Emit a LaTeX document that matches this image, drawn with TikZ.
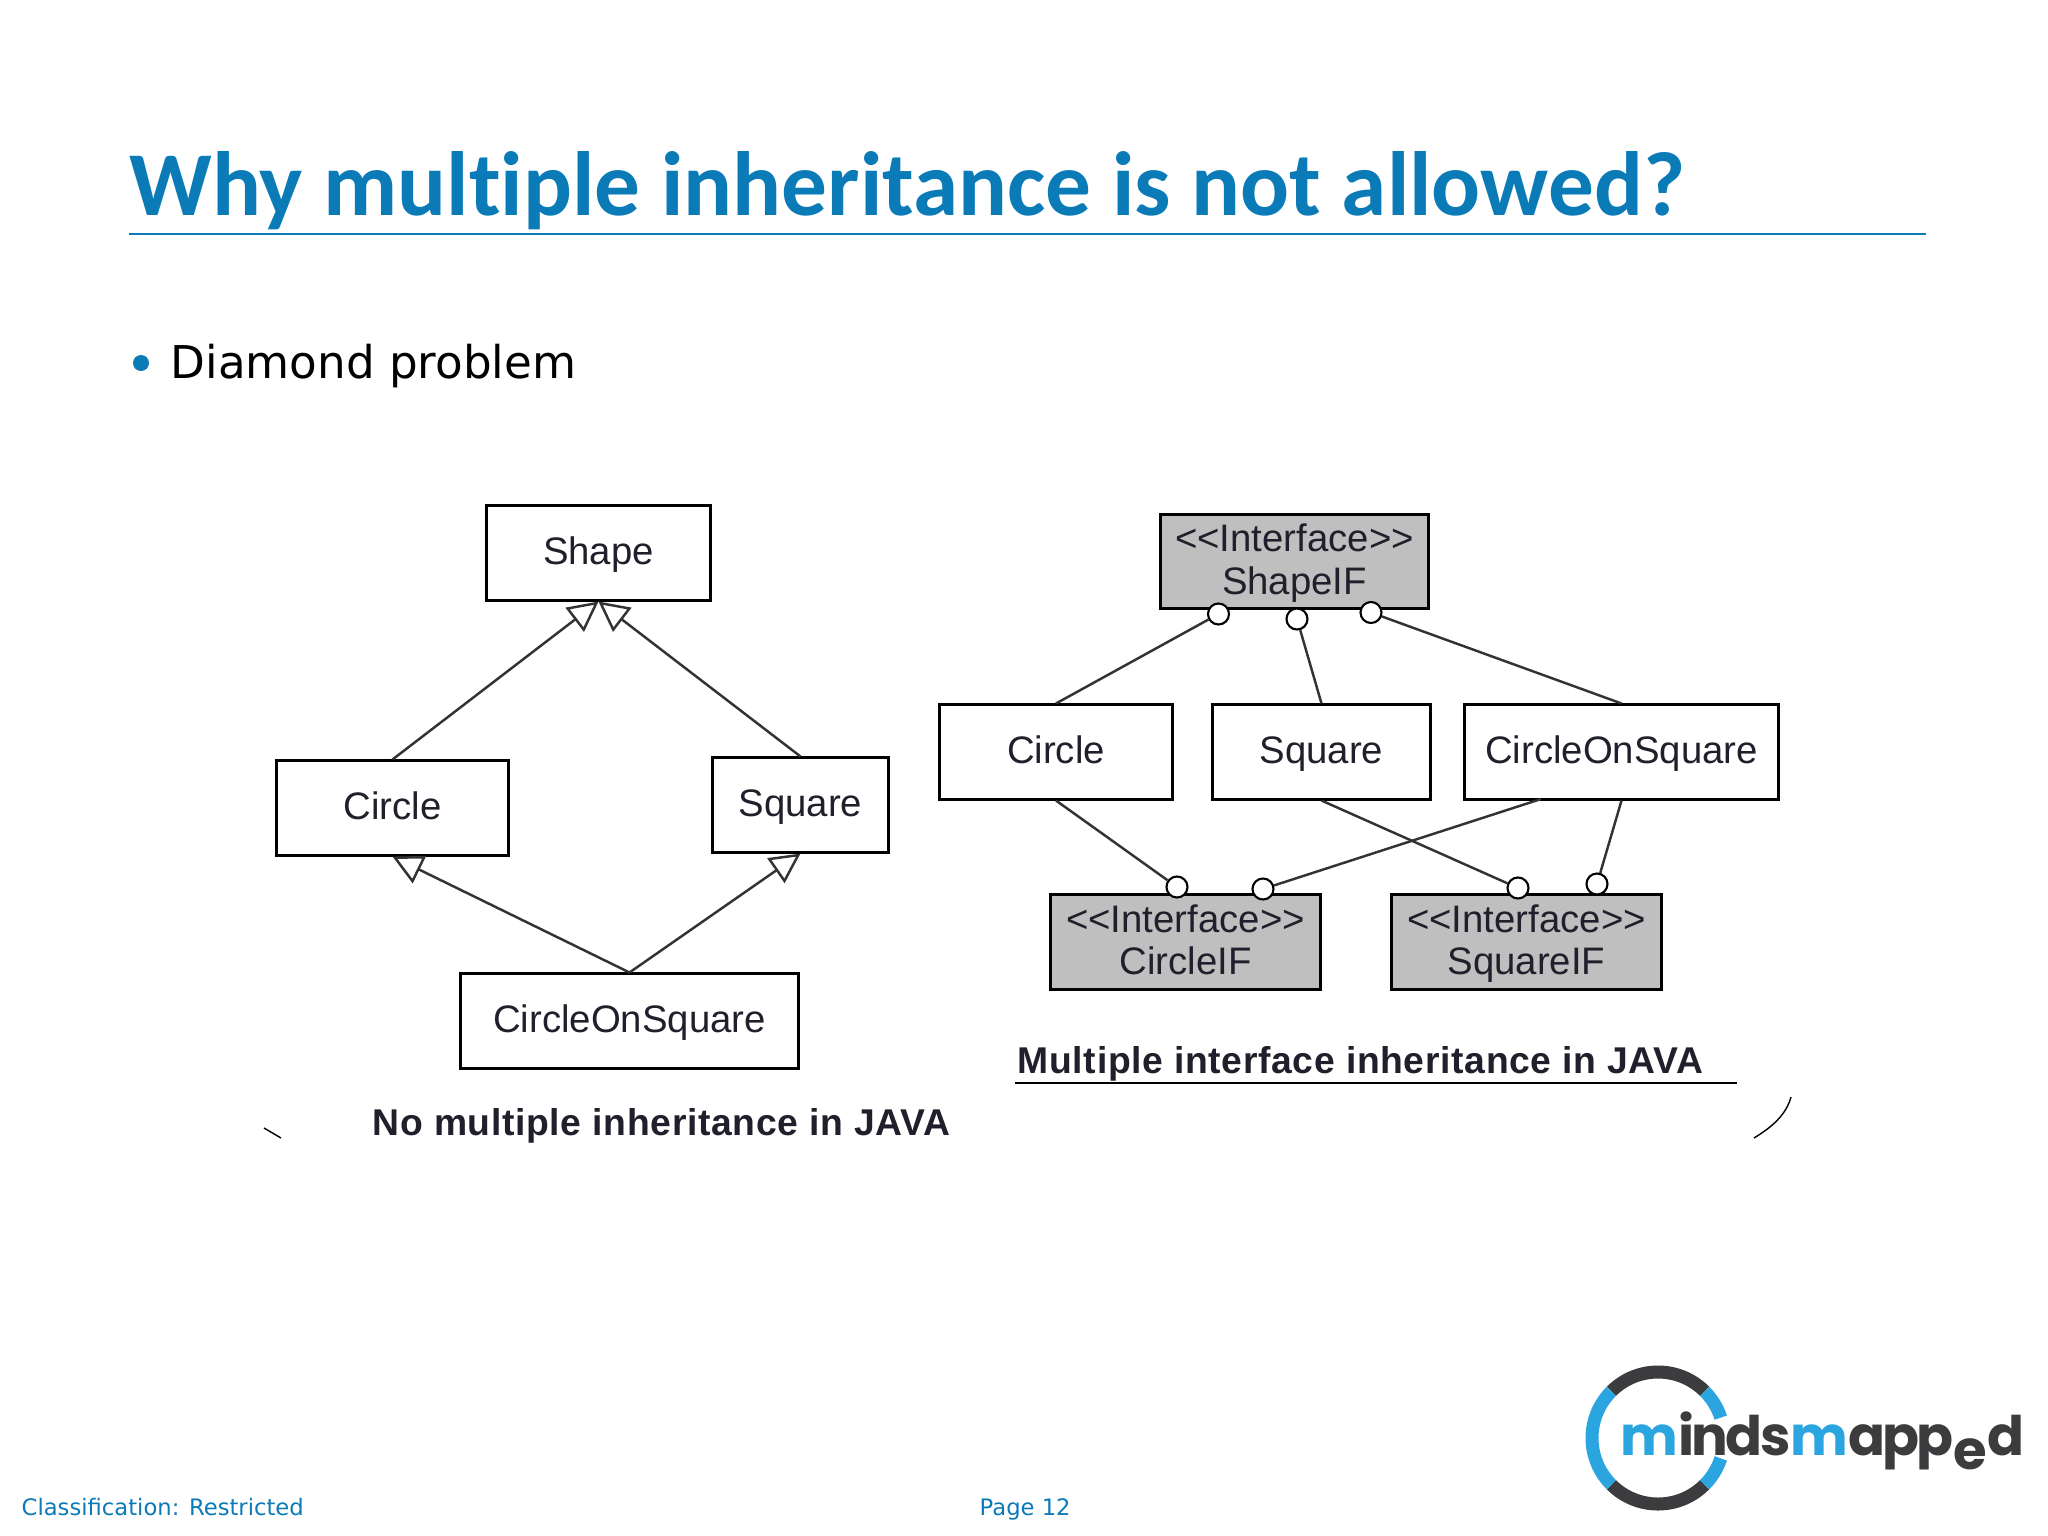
\documentclass[tikz,border=0pt]{standalone}
\usepackage{fontspec}
\setmainfont{DejaVu Sans}
\newfontfamily\boxfont{Liberation Sans}
\newfontfamily\capfont[LetterSpace=1.8]{Liberation Sans}
\newfontfamily\titlefont[Ligatures=NoCommon]{Carlito}
\newfontfamily\logofont[LetterSpace=-5]{Poppins}
\usetikzlibrary{arrows.meta}
\definecolor{titleblue}{HTML}{0B7BB8}
\definecolor{ifgray}{HTML}{BFBFBF}
\definecolor{logoblue}{HTML}{2BA5E0}
\definecolor{logodark}{HTML}{3C3C3E}
\definecolor{boxtext}{HTML}{20202C}
\newcommand{\ifclass}[1]{\rule{0pt}{10.1pt}<{}<Interface>{}>\\#1}
\tikzset{
    classbox/.style={draw, line width=0.85pt, minimum height=0.94cm, inner sep=0pt, align=center, text=boxtext, font=\boxfont\fontsize{10.9}{12}\selectfont, execute at begin node=\rule{0pt}{10.2pt}, execute at end node=\strut},
    ifbox/.style={classbox, fill=ifgray},
    lolly/.style={circle, draw, fill=white, line width=0.6pt, minimum size=0.21cm, inner sep=0pt},
    link/.style={line width=0.7pt, draw=black!80},
    inherit/.style={link, -{Triangle[open, fill=white, length=0.3cm, width=0.3cm]}},
    caption/.style={inner sep=0pt, text=boxtext, font=\capfont\bfseries\fontsize{10.6}{12}\selectfont},
    logoarc/.style={line width=3.7pt}
}
\begin{document}
\begin{tikzpicture}[x=0.01cm, y=-0.01cm]
    \useasboundingbox (0,0) rectangle (2048,1536);

    % heading:
    \node[anchor=base west, inner sep=0pt, text=titleblue, font=\titlefont\bfseries\fontsize{25.95}{30}\selectfont] (title) at (129,215) {Why multiple inheritance is not allowed?};
    \draw[titleblue, line width=0.3pt] (129,234) -- (1926,234);

    % bullet:
    \fill[titleblue] (141,363) circle (8);
    \node[anchor=base west, inner sep=0pt, font=\fontsize{12.85}{15}\selectfont] (bullet) at (170,378) {Diamond problem};

    % left classes:
    \node[classbox, minimum width=2.23cm] (shape) at (598.5,553) {Shape};
    \node[classbox, minimum width=2.31cm] (circle) at (392.5,808) {Circle};
    \node[classbox, minimum width=1.75cm] (square) at (800.5,805) {Square};
    \node[classbox, minimum width=3.37cm] (both) at (629.5,1021) {CircleOnSquare};

    % left arrows:
    \draw[inherit] (circle.north) -- (shape.south);
    \draw[inherit] (square.north) -- (shape.south);
    \draw[inherit] (both.north) -- (circle.south);
    \draw[inherit] (both.north) -- (square.south);

    % right classes:
    \node[ifbox, minimum width=2.67cm] (shapeif) at (1294.5,561.5) {\ifclass{ShapeIF}};
    \node[classbox, minimum width=2.32cm] (circleb) at (1056,752) {Circle};
    \node[classbox, minimum width=2.17cm] (squareb) at (1321.5,752) {Square};
    \node[classbox, minimum width=3.13cm] (bothb) at (1621.5,752) {CircleOnSquare};
    \node[ifbox, minimum width=2.69cm] (circleif) at (1185.5,942) {\ifclass{CircleIF}};
    \node[ifbox, minimum width=2.69cm] (squareif) at (1526.5,942) {\ifclass{SquareIF}};

    % lollipops:
    \node[lolly] (top1) at (1218.5,614) {};
    \node[lolly] (top2) at (1297,619) {};
    \node[lolly] (top3) at (1371,612.5) {};
    \node[lolly] (low1) at (1177,887) {};
    \node[lolly] (low2) at (1263,889) {};
    \node[lolly] (low3) at (1518,888) {};
    \node[lolly] (low4) at (1597,884) {};

    % right lines:
    \coordinate (bothleft) at (1541,799);
    \draw[link] (circleb.north) -- (top1);
    \draw[link] (squareb.north) -- (top2);
    \draw[link] (bothb.north) -- (top3);
    \draw[link] (circleb.south) -- (low1);
    \draw[link] (bothleft) -- (low2);
    \draw[link] (squareb.south) -- (low3);
    \draw[link] (bothb.south) -- (low4);

    % captions:
    \node[caption, anchor=base west] (nomulti) at (372,1135.5) {No multiple inheritance in JAVA};
    \node[caption, anchor=base west] (multi) at (1017,1073.5) {Multiple interface inheritance in JAVA};
    \draw[line width=0.7pt] (1015,1083) -- (1737,1083);

    % scraps of the cut off outline:
    \draw[line width=0.4pt] (264,1128) -- (281,1138);
    \draw[line width=0.4pt] (1791,1097) .. controls (1786,1115) and (1772,1127) .. (1754,1138);

    % footer:
    \node[anchor=base west, inner sep=0pt, text=titleblue, font=\fontsize{6.45}{8}\selectfont] (classif) at (21,1515) {Classification: Restricted};
    \node[anchor=base west, inner sep=0pt, text=titleblue, font=\fontsize{6.45}{8}\selectfont] (page) at (979,1515) {Page 12};

    % logo:
    \draw[logodark, logoarc] (1658,1438) ++(-45:66) arc[start angle=-45, end angle=-135, radius=66];
    \draw[logodark, logoarc] (1658,1438) ++(45:66) arc[start angle=45, end angle=135, radius=66];
    \draw[logoblue, logoarc] (1658,1438) ++(135:66) arc[start angle=135, end angle=225, radius=66];
    \draw[logoblue, logoarc] (1658,1438) ++(-45:66) arc[start angle=-45, end angle=-18, radius=66];
    \draw[logoblue, logoarc] (1658,1438) ++(45:66) arc[start angle=45, end angle=18, radius=66];
    \node[anchor=base west, inner sep=0pt, text=logodark, font=\logofont\bfseries\fontsize{15.5}{20}\selectfont] (logo) at (1620,1455) {\textcolor{logoblue}{m}inds\textcolor{logoblue}{m}app\raisebox{-4pt}{e}d};
\end{tikzpicture}
\end{document}
